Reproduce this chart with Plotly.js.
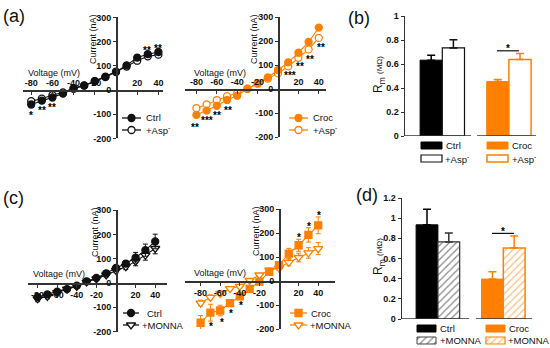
<!DOCTYPE html>
<html><head><meta charset="utf-8">
<script src="https://cdn.plot.ly/plotly-3.0.1.min.js"></script>
<style>body{margin:0;background:#fff}#c{width:550px;height:348px}</style>
</head><body><div id="c"></div>
<script>
const W = 550, H = 348;
const FONT = 'Liberation Sans, Arial, sans-serif';
const ORANGE = '#ff8000';
const AX = '#333';

// ---------- data ----------
const voltage = [-80,-70,-60,-50,-40,-30,-20,-10,0,10,20,30,40];
const xTickVals = [-80,-60,-40,-20,20,40];
const xTickText = ['-80','-60','-40','-20','20','40'];
const yTickVals = [-200,-100,0,100,200,300];
const yTickText = ['-200','-100','0','100','200','300'];

// (a) left: Ctrl vs +Asp-
const aCtrl      = [-60,-44,-31,-15,5,18,37,55,76,102,134,148,157];
const aCtrlErr   = [8,6,6,5,5,5,5,6,7,8,10,10,10];
const aAsp       = [-46,-36,-21,-10,8,19,36,53,74,97,121,139,146];
const aAspErr    = [7,6,5,5,5,5,5,6,6,7,8,8,9];
// (a) right: Croc vs +Asp-
const aCroc      = [-108,-90,-70,-46,-28,1,24,48,79,111,151,196,256];
const aCrocErr   = [6,6,5,5,5,4,5,5,6,7,8,8,9];
const aCrocAsp   = [-80,-64,-46,-30,-17,1,22,43,65,94,130,165,213];
const aCrocAspErr= [6,5,5,5,4,4,4,5,6,6,7,8,9];
// (c) left: Ctrl vs +MONNA
const cCtrl      = [-58,-47,-36,-25,-11,7,21,40,62,80,104,135,171];
const cCtrlErr   = [12,10,8,8,8,6,6,8,10,12,22,25,30];
const cMonna     = [-65,-55,-40,-25,-14,4,17,33,52,67,89,114,142];
const cMonnaErr  = [12,10,8,6,6,5,6,8,10,12,18,20,22];
// (c) right: Croc vs +MONNA
const cCroc      = [-174,-132,-123,-92,-64,-33,-3,38,66,114,149,192,232];
const cCrocErr   = [30,35,22,15,12,10,8,10,12,22,25,30,35];
const cCrocMonna = [-92,-68,-52,-32,-22,2,25,45,54,78,98,117,135];
const cCrocMonnaErr = [12,10,10,8,8,6,6,8,10,15,18,22,25];

// (b) membrane resistance, Asp-
const barPos  = [1,2,4,5];
const bValues = [0.632,0.734,0.454,0.637];
const bErrors = [0.041,0.069,0.017,0.05];
const bLabels = ['Ctrl','+Asp<sup>-</sup>','Croc','+Asp<sup>-</sup>'];
// (d) membrane resistance, MONNA
const dValues = [0.934,0.764,0.396,0.705];
const dErrors = [0.154,0.089,0.073,0.118];
const dLabels = ['Ctrl','+MONNA','Croc','+MONNA'];
const bTickVals = [0,0.2,0.4,0.6,0.8,1];
const bTickText = ['0','0.2','0.4','0.6','0.8','1'];
const dTickVals = [0,0.2,0.4,0.6,0.8,1,1.2];
const dTickText = ['0','0.2','0.4','0.6','0.8','1','1.2'];

// significance stars [voltage, current, text]
const aLeftStars  = [[-80,-91,'*'],[-70,-73,'**'],[-60,-58,'**'],[29,175,'**'],[40,182,'**']];
const aRightStars = [[-81,-146,'**'],[-70,-120,'***'],[-60,-99,'**'],[-49,-76,'**'],[12,68,'***'],[22,107,'**'],[31,137,'**'],[42,185,'**']];
const cRightStars = [[-80,-218,'*'],[-69,-179,'*'],[-58,-162,'*'],[-49,-121,'*'],[-39,-90,'*'],[20,195,'*'],[31,240,'*'],[41,286,'*']];

// ---------- helpers ----------
const tickFont = {family: FONT, size: 9, color: '#111', weight: 'bold'};
const starFont = {family: FONT, size: 10, color: '#000', weight: 'bold'};
function ivAxes(x0, sx, xr, y0, sy, yr, side) {
  const xa = {
    domain: [(x0 + xr[0]*sx)/W, (x0 + xr[1]*sx)/W], range: xr,
    anchor: 'free', position: 1 - y0/H, side: side,
    ticks: side === 'top' ? 'inside' : 'outside', ticklen: 3, tickwidth: 1, tickcolor: AX,
    tickvals: xTickVals, ticktext: xTickText, tickfont: tickFont,
    showline: true, linecolor: AX, linewidth: 1.5, showgrid: false, zeroline: false, fixedrange: true
  };
  const ya = {
    domain: [1 - (y0 - yr[0]*sy)/H, 1 - (y0 - yr[1]*sy)/H], range: yr,
    anchor: 'free', position: x0/W,
    ticks: 'outside', ticklen: 3, tickwidth: 1, tickcolor: AX,
    tickvals: yTickVals, ticktext: yTickText, tickfont: tickFont,
    showline: true, linecolor: AX, linewidth: 1.5, showgrid: false, zeroline: false, fixedrange: true
  };
  return [xa, ya];
}
function ivTrace(xa, ya, y, err, color, symbol, filled, size) {
  return {
    type: 'scatter', mode: 'lines+markers', x: voltage, y: y, xaxis: xa, yaxis: ya,
    line: {color: color, width: 1.1},
    marker: {symbol: symbol, size: size || 7, color: filled ? color : 'white', line: {color: color, width: 1.3}},
    error_y: {type: 'data', array: err, color: color, thickness: 1, width: 2.5},
    cliponaxis: false, hoverinfo: 'skip'
  };
}
function barTrace(xa, ya, i, vals, errs, fill, lc, lw, pattern, ec) {
  const t = {
    type: 'bar', x: [barPos[i]], y: [vals[i]], width: 1, xaxis: xa, yaxis: ya,
    marker: {color: fill, line: {color: lc, width: lw}},
    error_y: {type: 'data', array: [errs[i]], arrayminus: [0], symmetric: false, color: ec, thickness: 1.5, width: 4},
    hoverinfo: 'skip'
  };
  if (pattern) t.marker.pattern = pattern;
  return t;
}
function ann(x, y, text, size, opts) {
  return Object.assign({xref: 'paper', yref: 'paper', x: x/W, y: 1 - y/H, text: text, showarrow: false,
    font: {family: FONT, size: size, color: '#111'}, xanchor: 'left', yanchor: 'middle'}, opts || {});
}
function stars(xa, ya, list) {
  return list.map(s => ({xref: xa, yref: ya, x: s[0], y: s[1], text: s[2], showarrow: false, yshift: -3,
    font: starFont}));
}

// ---------- axes ----------
const [xa1, ya1] = ivAxes(116, 1.06, [-88, 44], 90, 0.242, [-200, 300], 'top');
const [xa2, ya2] = ivAxes(278, 1.02, [-91, 47], 89, 0.24, [-200, 300], 'top');
const [xa4, ya4] = ivAxes(116, 0.98, [-90, 52], 283, 0.243, [-200, 300], 'bottom');
const [xa5, ya5] = ivAxes(279, 0.98, [-96, 57], 281, 0.24, [-200, 300], 'bottom');

const bx0 = 431.2, bu = 22.2;   // px of x=1, px per unit in (b)
const dx0 = 427, du = 21.8;     // same for (d)
const xa3 = {domain: [405/W, 536/W], range: [(405-bx0)/bu+1, (536-bx0)/bu+1], anchor: 'y3', visible: false, fixedrange: true};
const ya3 = {domain: [1-136/H, 1-16/H], range: [0, 1], anchor: 'x3', showline: true, linecolor: AX, linewidth: 1.5,
  ticks: 'outside', ticklen: 3, tickcolor: AX, tickvals: bTickVals, ticktext: bTickText, tickfont: tickFont,
  showgrid: false, zeroline: false, fixedrange: true};
const xa6 = {domain: [402/W, 532/W], range: [(402-dx0)/du+1, (532-dx0)/du+1], anchor: 'y6', visible: false, fixedrange: true};
const ya6 = {domain: [1-319/H, 1-198/H], range: [0, 1.2], anchor: 'x6', showline: true, linecolor: AX, linewidth: 1.5,
  ticks: 'outside', ticklen: 3, tickcolor: AX, tickvals: dTickVals, ticktext: dTickText, tickfont: tickFont,
  showgrid: false, zeroline: false, fixedrange: true};
// pixel overlay for legend swatches
const xa7 = {domain: [0, 1], range: [0, W], anchor: 'y7', visible: false, fixedrange: true};
const ya7 = {domain: [0, 1], range: [H, 0], anchor: 'x7', visible: false, fixedrange: true};

// ---------- traces ----------
const hatchGray = {shape: '/', fgcolor: '#8a8a8a', bgcolor: 'white', size: 5, solidity: 0.25};
const hatchOrange = {shape: '/', fgcolor: '#ffbf80', bgcolor: 'white', size: 5, solidity: 0.25};

const traces = [
  ivTrace('x', 'y', aAsp, aAspErr, '#111', 'circle', false, 7),
  ivTrace('x', 'y', aCtrl, aCtrlErr, '#111', 'circle', true, 7),
  ivTrace('x2', 'y2', aCrocAsp, aCrocAspErr, ORANGE, 'circle', false, 7),
  ivTrace('x2', 'y2', aCroc, aCrocErr, ORANGE, 'circle', true, 7),
  ivTrace('x4', 'y4', cMonna, cMonnaErr, '#111', 'triangle-down', false, 8),
  ivTrace('x4', 'y4', cCtrl, cCtrlErr, '#111', 'circle', true, 7),
  ivTrace('x5', 'y5', cCrocMonna, cCrocMonnaErr, ORANGE, 'triangle-down', false, 8),
  ivTrace('x5', 'y5', cCroc, cCrocErr, ORANGE, 'square', true, 7),
  barTrace('x3', 'y3', 0, bValues, bErrors, '#000', '#000', 1, null, '#000'),
  barTrace('x3', 'y3', 1, bValues, bErrors, '#fff', '#111', 1.2, null, '#111'),
  barTrace('x3', 'y3', 2, bValues, bErrors, ORANGE, ORANGE, 1, null, ORANGE),
  barTrace('x3', 'y3', 3, bValues, bErrors, '#fff', ORANGE, 1.5, null, ORANGE),
  barTrace('x6', 'y6', 0, dValues, dErrors, '#000', '#000', 1, null, '#000'),
  barTrace('x6', 'y6', 1, dValues, dErrors, '#fff', '#333', 1.2, hatchGray, '#333'),
  barTrace('x6', 'y6', 2, dValues, dErrors, ORANGE, ORANGE, 1, null, ORANGE),
  barTrace('x6', 'y6', 3, dValues, dErrors, '#fff', ORANGE, 1.5, hatchOrange, ORANGE)
];

// legend swatches (overlay pixel axes)
function legLine(x1, x2, y, color, symbol, filled, size) {
  traces.push({type: 'scatter', mode: 'lines', x: [x1, x2], y: [y, y], xaxis: 'x7', yaxis: 'y7',
    line: {color: color, width: 1.3}, hoverinfo: 'skip'});
  traces.push({type: 'scatter', mode: 'markers', x: [(x1 + x2)/2], y: [y], xaxis: 'x7', yaxis: 'y7',
    marker: {symbol: symbol, size: size, color: filled ? color : 'white', line: {color: color, width: 1.3}}, hoverinfo: 'skip'});
}
function legBox(x1, x2, y1, y2, fill, lc, lw, pattern) {
  const m = {color: fill, line: {color: lc, width: lw}};
  if (pattern) m.pattern = pattern;
  traces.push({type: 'bar', orientation: 'h', y: [(y1 + y2)/2], x: [x2 - x1], base: [x1], width: [y2 - y1],
    xaxis: 'x7', yaxis: 'y7', marker: m, hoverinfo: 'skip'});
}
legLine(122, 141, 118, '#111', 'circle', true, 7);
legLine(122, 141, 130, '#111', 'circle', false, 7);
legLine(289, 308, 118, ORANGE, 'circle', true, 7);
legLine(289, 308, 130, ORANGE, 'circle', false, 7);
legLine(123, 139, 313, '#111', 'circle', true, 7);
legLine(123, 139, 325, '#111', 'triangle-down', false, 8);
legLine(290, 307, 313, ORANGE, 'square', true, 7);
legLine(290, 307, 325, ORANGE, 'triangle-down', false, 8);
legBox(421, 442, 142, 149, '#000', '#000', 1);
legBox(421, 442, 155, 162, '#fff', '#111', 1.2);
legBox(487, 508, 142, 149, ORANGE, ORANGE, 1);
legBox(487, 508, 155, 162, '#fff', ORANGE, 1.5);
legBox(417, 436, 325, 332, '#000', '#000', 1);
legBox(417, 436, 337, 344, '#fff', '#444', 1, hatchGray);
legBox(486, 505, 325, 332, ORANGE, ORANGE, 1);
legBox(486, 505, 337, 344, '#fff', ORANGE, 1.2, hatchOrange);

// ---------- annotations ----------
const annotations = [
  ann(1, 16, '(a)', 18), ann(346, 18, '(b)', 18), ann(1, 198, '(c)', 18), ann(354, 195, '(d)', 18),
  ann(26, 73, 'Voltage (mV)', 9), ann(192, 73, 'Voltage (mV)', 9),
  ann(31, 274, 'Voltage (mV)', 9), ann(192, 273, 'Voltage (mV)', 9),
  ann(93, 39, 'Current (nA)', 9, {xanchor: 'center', textangle: -90}),
  ann(254, 39, 'Current (nA)', 9, {xanchor: 'center', textangle: -90}),
  ann(95, 232, 'Current (nA)', 9, {xanchor: 'center', textangle: -90}),
  ann(256, 231, 'Current (nA)', 9, {xanchor: 'center', textangle: -90}),
  ann(379, 75, "R<sub>m</sub> <span style='font-size:8px'>(MΩ)</span>", 12, {xanchor: 'center', textangle: -90}),
  ann(379, 257, "R<sub>m</sub> <span style='font-size:8px'>(MΩ)</span>", 12, {xanchor: 'center', textangle: -90}),
  // IV legends
  ann(144, 118, 'Ctrl', 9.5), ann(144, 130, '+Asp<sup>-</sup>', 9.5),
  ann(311, 118, 'Croc', 9.5), ann(311, 130, '+Asp<sup>-</sup>', 9.5),
  ann(145, 313, 'Ctrl', 9.5), ann(140, 325, '+MONNA', 9.5),
  ann(309, 313, 'Croc', 9.5), ann(308, 325, '+MONNA', 9.5),
  // bar legends
  ann(444, 145.5, bLabels[0], 9.5), ann(443, 158.5, bLabels[1], 9.5),
  ann(510, 145.5, bLabels[2], 9.5), ann(510, 158.5, bLabels[3], 9.5),
  ann(438, 328.5, dLabels[0], 9.5), ann(438, 340.5, dLabels[1], 9.5),
  ann(507, 328.5, dLabels[2], 9.5), ann(506, 340.5, dLabels[3], 9.5),
  // bar significance
  {xref: 'x3', yref: 'y3', x: 4.45, y: 0.715, text: '*', showarrow: false, yshift: 2, font: starFont},
  {xref: 'x6', yref: 'y6', x: 4.48, y: 0.849, text: '*', showarrow: false, yshift: 2, font: starFont}
].concat(stars('x', 'y', aLeftStars), stars('x2', 'y2', aRightStars), stars('x5', 'y5', cRightStars));

const shapes = [
  // bar panel baselines (broken between groups)
  {type: 'line', xref: 'x3', yref: 'y3', x0: (405-bx0)/bu+1, x1: (471-bx0)/bu+1, y0: 0, y1: 0, line: {color: AX, width: 1.5}},
  {type: 'line', xref: 'x3', yref: 'y3', x0: (477-bx0)/bu+1, x1: (536-bx0)/bu+1, y0: 0, y1: 0, line: {color: AX, width: 1.5}},
  {type: 'line', xref: 'x6', yref: 'y6', x0: (402-dx0)/du+1, x1: (469-dx0)/du+1, y0: 0, y1: 0, line: {color: AX, width: 1.5}},
  {type: 'line', xref: 'x6', yref: 'y6', x0: (476-dx0)/du+1, x1: (532-dx0)/du+1, y0: 0, y1: 0, line: {color: AX, width: 1.5}},
  // significance brackets
  {type: 'line', xref: 'x3', yref: 'y3', x0: 3.96, x1: 4.95, y0: 0.71, y1: 0.71, line: {color: '#111', width: 1.2}},
  {type: 'line', xref: 'x6', yref: 'y6', x0: 3.98, x1: 4.99, y0: 0.849, y1: 0.849, line: {color: '#111', width: 1.2}}
];

const layout = {
  width: W, height: H, margin: {l: 0, r: 0, t: 0, b: 0},
  paper_bgcolor: 'white', plot_bgcolor: 'rgba(0,0,0,0)', showlegend: false,
  font: {family: FONT, color: '#111'}, barmode: 'overlay',
  xaxis: xa1, yaxis: ya1, xaxis2: xa2, yaxis2: ya2, xaxis3: xa3, yaxis3: ya3,
  xaxis4: xa4, yaxis4: ya4, xaxis5: xa5, yaxis5: ya5, xaxis6: xa6, yaxis6: ya6,
  xaxis7: xa7, yaxis7: ya7,
  annotations: annotations, shapes: shapes
};
Plotly.newPlot('c', traces, layout, {staticPlot: true, displayModeBar: false});
</script></body></html>
